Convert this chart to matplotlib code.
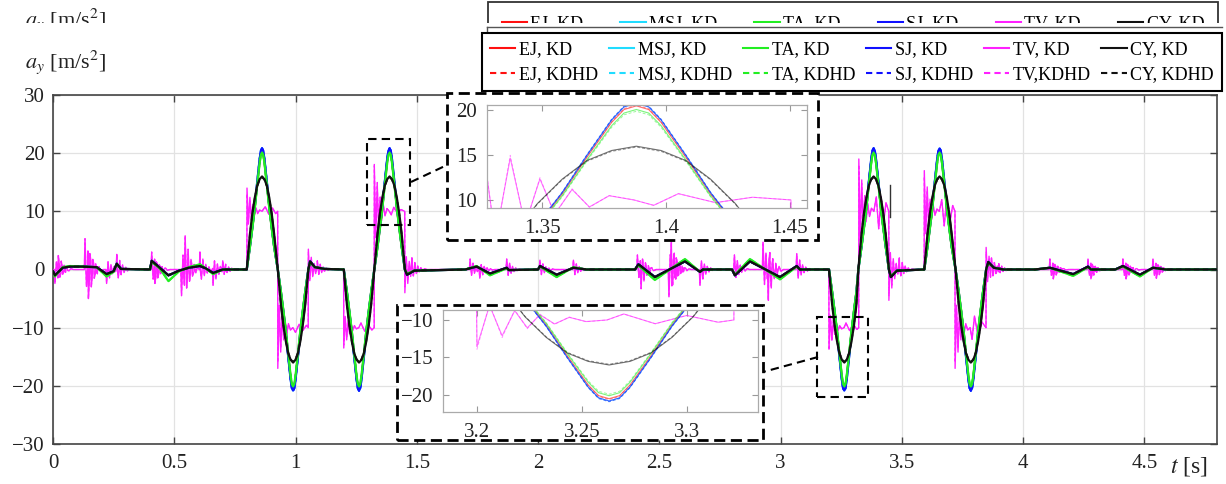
import numpy as np
import matplotlib
matplotlib.use("Agg")
import matplotlib.pyplot as plt
from matplotlib.patches import Rectangle
from matplotlib.lines import Line2D

plt.rcParams['font.family'] = ['Liberation Serif', 'DejaVu Serif']
plt.rcParams['mathtext.fontset'] = 'stix'

W, H = 1226, 484

# ---- data ----
methods = ["EJ", "MSJ", "TA", "SJ", "TV", "CY"]
colors = ["#ff1010", "#20dcff", "#22ee22", "#1010ff", "#ff20ff", "#111111"]
kd_labels = ["EJ, KD", "MSJ, KD", "TA, KD", "SJ, KD", "TV, KD", "CY, KD"]
kdhd_labels = ["EJ, KDHD", "MSJ, KDHD", "TA, KDHD", "SJ, KDHD", "TV,KDHD", "CY, KDHD"]

# peak of each lobe [m/s^2] (TV = bang-bang level)
peak_kd = [20.5, 20.8, 20.1, 20.8, 10.0, 16.0]
peak_kdhd = [20.6, 20.9, 19.9, 20.9, 10.0, 15.9]

# lobe centres [s] and sign, in pairs
lobe_c = [0.862, 0.990, 1.262, 1.388, 3.263, 3.384, 3.656, 3.785]
lobe_s = [1, -1, -1, 1, -1, 1, 1, -1]

# normalised lobe shape for the jerk-limited profiles
sharp_off = [-0.063, -0.05, -0.04, -0.03, -0.02, -0.01, -0.005, 0.0, 0.005, 0.01, 0.02, 0.03, 0.04, 0.05]
sharp_val = [0.0, 0.19, 0.35, 0.52, 0.72, 0.91, 0.98, 1.0, 0.98, 0.91, 0.72, 0.52, 0.35, 0.19]
# normalised lobe shape for CY (rounder)
cy_off = [-0.063, -0.05, -0.04, -0.03, -0.02, -0.01, 0.0, 0.01, 0.02, 0.03, 0.04, 0.05]
cy_val = [0.0, 0.38, 0.60, 0.77, 0.90, 0.97, 1.0, 0.97, 0.90, 0.77, 0.60, 0.38]

# small wiggles between the manoeuvres
bl_t = [0.0, 0.008, 0.04, 0.07, 0.12, 0.18, 0.221, 0.25, 0.263, 0.28, 0.40, 0.407, 0.44, 0.476, 0.52, 0.56,
        0.606, 0.63, 0.66, 0.70, 0.79,
        1.06, 1.08, 1.12, 1.19,
        1.46, 1.49, 1.70, 1.747, 1.802, 1.871, 1.88, 2.00, 2.008, 2.077, 2.146, 2.20, 2.40, 2.414, 2.482,
        2.606, 2.668, 2.68, 2.80, 2.812, 2.874, 2.998, 3.067, 3.08, 3.19,
        3.455, 3.48, 3.59,
        3.857, 3.88, 3.92, 4.05, 4.111, 4.207, 4.268, 4.28, 4.38, 4.412, 4.482, 4.536, 4.59, 4.8]
bl_v = [-0.3, -1.0, 0.3, 0.5, 0.5, 0.4, -0.8, -0.3, 1.0, 0.1, 0.0, 1.5, 0.3, -1.0, -0.2, 0.3,
        0.6, 0.2, -0.6, 0.0, 0.0,
        1.4, 0.4, 0.1, 0.0,
        -0.9, -0.2, 0.0, 0.5, -0.7, 0.3, -0.1, 0.0, 0.6, -0.9, 0.3, 0.0, 0.0, 0.9, -1.3,
        1.4, -0.4, 0.0, 0.0, -1.0, 1.4, -1.3, 0.6, 0.0, 0.0,
        -1.3, -0.2, 0.0,
        1.3, 0.3, 0.0, 0.0, 0.3, -0.8, 0.5, 0.0, 0.0, 0.6, -0.9, 0.3, 0.0, 0.0]
ta_bl_v = [-0.3, -1.2, 0.4, 0.6, 0.5, 0.4, -1.2, -0.4, 0.9, 0.1, 0.0, 1.3, 0.2, -2.0, -0.3, 0.4,
           0.9, 0.2, -0.8, 0.0, 0.0,
           1.2, 0.4, 0.1, 0.0,
           -0.7, -0.2, 0.0, 0.6, -1.0, 0.2, -0.1, 0.0, 0.5, -1.3, 0.4, 0.0, 0.0, 0.7, -1.8,
           1.8, -0.4, 0.0, 0.0, -0.9, 1.8, -1.7, 0.5, 0.0, 0.0,
           -1.1, -0.2, 0.0,
           1.1, 0.3, 0.0, 0.0, 0.3, -1.1, 0.4, 0.0, 0.0, 0.5, -1.2, 0.3, 0.0, 0.0]

# TV bang-bang: switching times, level after switch, overshoot
tv_edge = [0.800, 0.927, 1.053, 1.199, 1.325, 1.451, 3.200, 3.323, 3.447, 3.593, 3.720, 3.848]
tv_level = [10, -10, 0, -10, 10, 0, -10, 10, 0, 10, -10, 0]
tv_kick = [4.0, -7.0, 3.5, -3.5, 7.8, -4.0, -3.5, 9.0, -5.3, 7.0, -7.0, 3.8]
tv2_kick = [3.0, -6.0, 3.0, -3.0, 8.3, -3.0, -3.9, 8.0, -4.5, 6.0, -6.0, 3.0]
# decaying ringing after a kick
ring_off = [0.0, 0.006, 0.012, 0.018, 0.024, 0.030, 0.037, 0.044, 0.052, 0.062]
ring_val = [1.0, -0.55, 0.6, -0.35, 0.3, -0.2, 0.15, -0.1, 0.06, 0.0]
# ripple on the TV plateaus (deviation from the level)
tv_ripple_t = [0.875, 0.89, 0.905, 0.918, 1.00, 1.015, 1.03, 1.045, 1.27, 1.285, 1.30, 1.315,
               1.395, 1.405, 1.42, 1.435, 3.27, 3.285, 3.30, 3.315, 3.395, 3.405, 3.415, 3.425, 3.435,
               3.665, 3.675, 3.685, 3.70, 3.71, 3.79, 3.80, 3.815, 3.83]
tv_ripple_v = [0.8, -0.5, 0.6, -0.4, -0.8, 0.6, -0.5, 0.4, 0.8, -0.6, 0.5, -0.4,
               -0.6, 0.7, -0.3, 0.3, 0.8, -0.5, 0.6, -0.3, 2.5, -3.0, 2.5, -2.0, 1.5,
               2.0, -2.5, 2.0, -1.5, 1.0, -2.0, 2.0, -1.5, 1.0]
# vibration spikes of TV between the manoeuvres
tv_noise_t = [0.008, 0.022, 0.132, 0.146, 0.221, 0.263, 0.407, 0.42, 0.53, 0.545, 0.606, 0.66, 0.70,
              1.09, 1.48,
              1.72, 1.76, 1.871, 2.008, 2.146, 2.41, 2.425, 2.54, 2.55, 2.57, 2.668, 2.81, 2.928, 2.95,
              3.067, 3.49, 3.87, 3.90, 4.111, 4.125, 4.268, 4.28, 4.412, 4.425, 4.536, 4.55]
tv_noise_a = [-2.4, 2.4, 5.3, -5.0, -2.4, 2.6, 3.0, -2.4, -4.5, 5.8, 3.0, -2.7, 1.5,
              1.5, 2.0,
              1.8, -1.5, 1.8, 1.6, 1.6, 2.5, -3.3, -4.7, 4.7, 2.0, -2.7, 2.5, 4.7, -5.3,
              2.7, 2.0, 2.0, 1.0, 1.8, -1.6, 1.8, -1.6, 1.8, -1.6, 1.8, -1.5]

# axis ticks
xticks = [0, 0.5, 1, 1.5, 2, 2.5, 3, 3.5, 4, 4.5]
xticklabels = ["0", "0.5", "1", "1.5", "2", "2.5", "3", "3.5", "4", "4.5"]
yticks = [-30, -20, -10, 0, 10, 20, 30]
in1_xticks, in1_yticks = [1.35, 1.4, 1.45], [10, 15, 20]
in2_xticks, in2_yticks = [3.2, 3.25, 3.3], [-20, -15, -10]


def lobe_series(off, shape, peak, base_v):
    t, v = list(bl_t), list(base_v)
    for i, (c, s) in enumerate(zip(lobe_c, lobe_s)):
        t += [c + o for o in off]
        v += [s * peak * y for y in shape]
        if i % 2 == 1:
            t.append(c + 0.063)
            v.append(0.0)
    t, v = np.array(t), np.array(v)
    k = np.argsort(t)
    return t[k], v[k]


def tv_series(kicks):
    levels = [0.0] + tv_level
    pts = [(0.0, 0.0), (4.8, 0.0)]
    for e, lv, k, prev in zip(tv_edge, tv_level, kicks, levels[:-1]):
        pts.append((e - 0.0005, prev))
        pts += [(e + o, lv + k * r) for o, r in zip(ring_off, ring_val)]
    for tn, a in zip(tv_noise_t, tv_noise_a):
        b = levels[np.searchsorted(tv_edge, tn, side='right')]
        pts.append((tn - 0.003, b))
        pts += [(tn + o, b + a * r) for o, r in zip(ring_off, ring_val)]
    for tr, d in zip(tv_ripple_t, tv_ripple_v):
        b = levels[np.searchsorted(tv_edge, tr, side='right')]
        pts.append((tr, b + d))
    pts.sort()
    return np.array([p[0] for p in pts]), np.array([p[1] for p in pts])


series = {}
for i, m in enumerate(methods):
    for tag, pk in (("KD", peak_kd[i]), ("KDHD", peak_kdhd[i])):
        if m == "TV":
            series[(m, tag)] = tv_series(tv_kick if tag == "KD" else tv2_kick)
        elif m == "CY":
            series[(m, tag)] = lobe_series(cy_off, cy_val, pk, bl_v)
        elif m == "TA":
            series[(m, tag)] = lobe_series(sharp_off, sharp_val, pk, ta_bl_v)
        else:
            series[(m, tag)] = lobe_series(sharp_off, sharp_val, pk, bl_v)

draw_order = ["TV", "EJ", "MSJ", "SJ", "TA", "CY"]

fig = plt.figure(figsize=(W / 100, H / 100), dpi=100)


def fx(px):
    return px / W


def fy(py):
    return 1 - py / H


ax = fig.add_axes([fx(53), fy(444), fx(1164), 349 / H])
for m in draw_order:
    c = colors[methods.index(m)]
    lw = 1.0 if m == "TV" else 1.6
    t, v = series[(m, "KD")]
    ax.plot(t, v, color=c, lw=lw, zorder=3)
    t, v = series[(m, "KDHD")]
    ax.plot(t, v, color=c, lw=lw * 0.8, ls=(0, (3, 2)), zorder=3)
ax.set_xlim(0, 4.8)
ax.set_ylim(-30, 30)
ax.set_xticks(xticks)
ax.set_xticklabels(xticklabels)
ax.set_yticks(yticks)
ax.grid(True, color="#e2e2e2", lw=0.9)
ax.set_axisbelow(True)
ax.tick_params(direction="in", length=5, width=1, color="#444444", labelsize=15,
               top=True, right=True, labelcolor="#222222")
ax.tick_params(axis="x", pad=7)
ax.tick_params(axis="y", pad=6)
for sp in ax.spines.values():
    sp.set_color("#444444")
    sp.set_linewidth(1.2)

# zoom marks on the main plot
ax.add_patch(Rectangle((1.293, 7.6), 0.181, 14.9, fill=False, ec="black", lw=1.5, ls=(0, (4, 2.5)), zorder=6))
ax.add_patch(Rectangle((3.149, -22.0), 0.210, 13.75, fill=False, ec="black", lw=1.5, ls=(0, (4, 2.5)), zorder=6))

# dashed inset frames
for (x0, y0, x1, y1) in [(447, 93, 818, 240), (397, 305, 763, 440)]:
    fig.add_artist(Rectangle((fx(x0), fy(y1)), fx(x1 - x0), (y1 - y0) / H, transform=fig.transFigure,
                             fc="white", ec="black", lw=2, ls=(0, (4, 2)), zorder=2))
fig.add_artist(Line2D([fx(411), fx(447)], [fy(182), fy(165)], color="black", lw=1.5, ls=(0, (4, 2.5)), zorder=2))
fig.add_artist(Line2D([fx(818), fx(763)], [fy(357), fy(372)], color="black", lw=1.5, ls=(0, (4, 2.5)), zorder=2))
fig.add_artist(Line2D([fx(890), fx(890)], [fy(185), fy(217)], color="#333333", lw=1.0, zorder=2))

insets = [([fx(487), fy(208), fx(320), 103 / H], (1.3276, 1.457), (9.1, 20.6), in1_xticks, in1_yticks),
          ([fx(443), fy(412), fx(315), 102 / H], (3.1838, 3.334), (-22.27, -8.67), in2_xticks, in2_yticks)]
for rect, xl, yl, xt, yt in insets:
    ia = fig.add_axes(rect, zorder=3)
    for m in draw_order:
        c = colors[methods.index(m)]
        t, v = series[(m, "KD")]
        ia.plot(t, v, color=c, lw=0.8, alpha=0.6)
        t, v = series[(m, "KDHD")]
        ia.plot(t, v, color=c, lw=0.7, alpha=0.45, ls=(0, (3, 2)))
    ia.set_xlim(*xl)
    ia.set_ylim(*yl)
    ia.set_xticks(xt)
    ia.set_xticklabels([f"{x:g}" for x in xt])
    ia.set_yticks(yt)
    ia.tick_params(direction="in", length=4, width=0.8, color="#999999", labelsize=15,
                   top=True, right=True, labelcolor="#222222")
    ia.tick_params(axis="x", pad=8)
    ia.tick_params(axis="y", pad=7)
    for sp in ia.spines.values():
        sp.set_color("#aaaaaa")
        sp.set_linewidth(0.9)

# ghost of the header (double exposure at the top edge)
fig.text(fx(25), fy(20), r"$a_y$ [m/s$^2$]", fontsize=16, va="center", color="#222222", zorder=4)
ghost = fig.legend([Line2D([], [], color=c, lw=1.5) for c in colors], kd_labels, ncol=6,
                   loc="upper left", bbox_to_anchor=(fx(488), fy(60), fx(730), 58 / H), mode="expand",
                   fontsize=13, frameon=True, fancybox=False, edgecolor="black", borderpad=0.75,
                   handlelength=1.4, handletextpad=0.2, borderaxespad=0)
ghost.get_frame().set_linewidth(1.3)
ghost.set_zorder(5)
fig.add_artist(Rectangle((0, fy(33)), 1, 10 / H, transform=fig.transFigure, fc="white", ec="none", zorder=6))
fig.add_artist(Line2D([fx(487), fx(1222)], [fy(27), fy(27)], color="#555555", lw=1.0, zorder=7))
fig.add_artist(Line2D([fx(487), fx(487)], [fy(27), fy(33)], color="#555555", lw=1.0, zorder=7))

# legend
handles, labels = [], []
for i, m in enumerate(methods):
    handles.append(Line2D([], [], color=colors[i], lw=1.5))
    labels.append(kd_labels[i])
    handles.append(Line2D([], [], color=colors[i], lw=1.5, ls=(0, (3, 2))))
    labels.append(kdhd_labels[i])
leg = fig.legend(handles, labels, ncol=6, loc="upper left",
                 bbox_to_anchor=(fx(482), fy(97), fx(740), 64 / H), mode="expand",
                 fontsize=13, frameon=True, fancybox=False, edgecolor="black", framealpha=1,
                 borderpad=0.45, labelspacing=0.45, handlelength=1.4, handletextpad=0.2,
                 borderaxespad=0)
leg.get_frame().set_linewidth(1.5)
leg.set_zorder(8)

# axis labels
fig.text(fx(25), fy(62), r"$a_y$ [m/s$^2$]", fontsize=16, va="center", color="#222222")
fig.text(fx(1170), fy(466), r"$t$ [s]", fontsize=17, va="center", color="#222222")

fig.savefig("out.png", dpi=100)
